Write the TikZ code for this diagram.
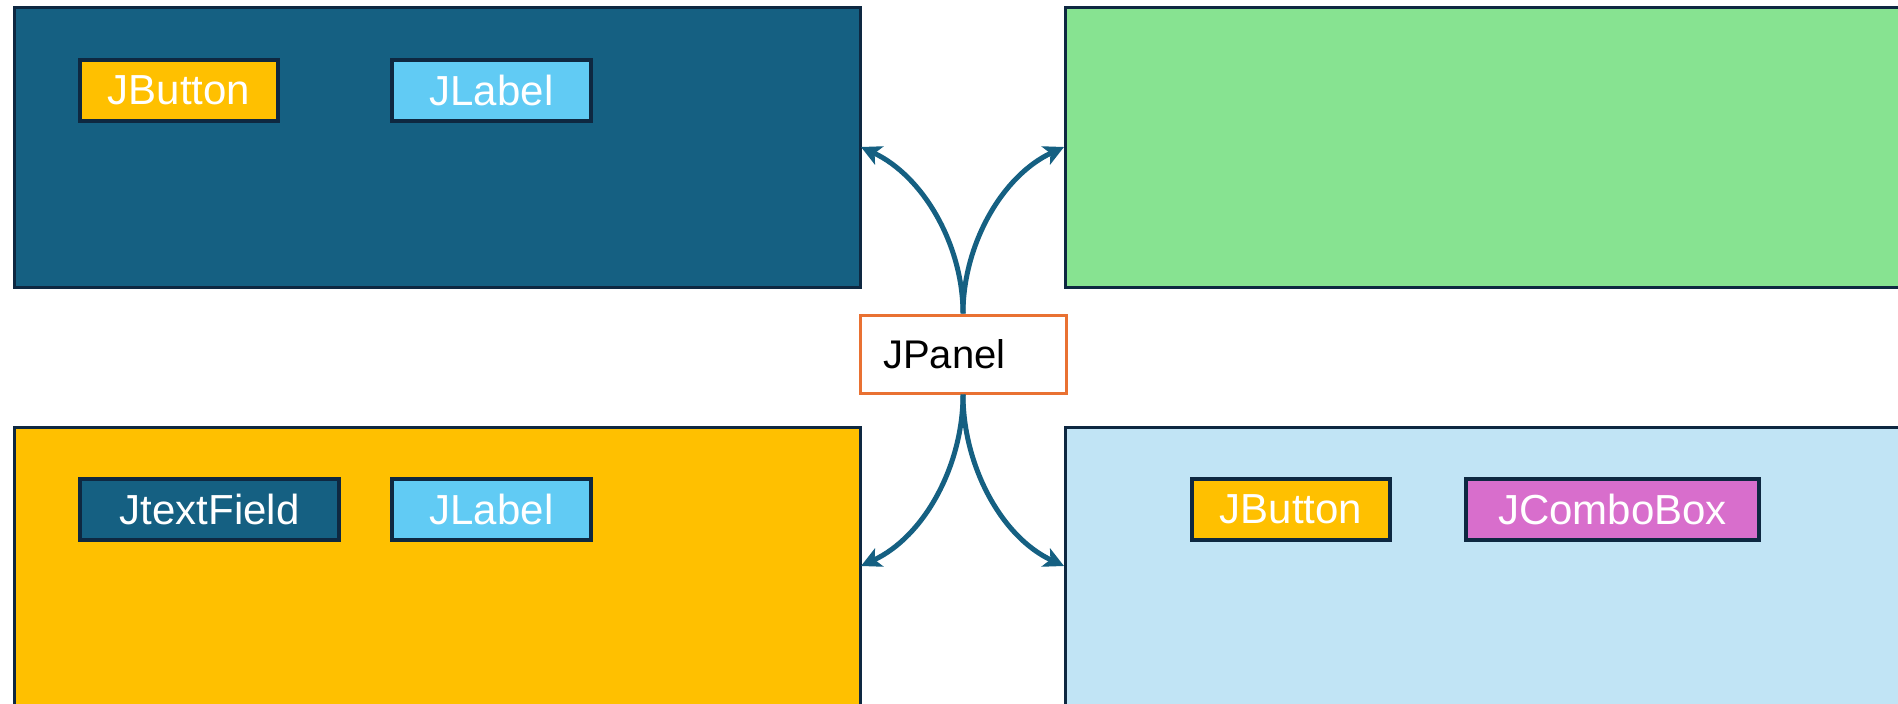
\documentclass[tikz,border=0pt]{standalone}
\usepackage{fontspec}
\setmainfont{Liberation Sans}
\usetikzlibrary{arrows.meta}
\definecolor{teal}{HTML}{156082}
\definecolor{navy}{HTML}{0E2841}
\definecolor{grn}{HTML}{87E391}
\definecolor{gold}{HTML}{FFC000}
\definecolor{pale}{HTML}{C1E4F5}
\definecolor{sky}{HTML}{61CBF4}
\definecolor{pink}{HTML}{D86ECC}
\definecolor{orng}{HTML}{E97132}
\tikzset{
  panelbox/.style={draw=navy, line width=3pt},
  comp/.style={draw=navy, line width=3.5pt, text=white, font=\fontsize{42}{42}\selectfont},
  conn/.style={draw=teal, line width=5pt, -{Stealth[length=20pt,width=20pt,inset=5pt]}},
}
\begin{document}
\begin{tikzpicture}[x=1pt,y=-1pt]
\useasboundingbox (0,0) rectangle (1898,704);
\clip (0,0) rectangle (1898,704);
\fill[white] (0,0) rectangle (1898,704);
% big panels
\draw[panelbox, fill=teal] (14,7) rectangle (860,287);
\draw[panelbox, fill=grn] (1065,7) rectangle (1920,287);
\draw[panelbox, fill=gold] (14,427) rectangle (860,720);
\draw[panelbox, fill=pale] (1065,427) rectangle (1920,720);
\coordinate (tl) at (861,147);
\coordinate (tr) at (1064,147);
\coordinate (bl) at (861,566);
\coordinate (br) at (1064,566);
% components
\draw[comp, fill=gold] (80,60) rectangle (278,121) node[midway] (b1) {JButton};
\draw[comp, fill=sky] (392,60) rectangle (591,121) node[midway] (l1) {JLabel};
\draw[comp, fill=teal] (80,479) rectangle (339,540) node[midway] (t1) {JtextField};
\draw[comp, fill=sky] (392,479) rectangle (591,540) node[midway] (l2) {JLabel};
\draw[comp, fill=gold] (1192,479) rectangle (1390,540) node[midway] (b2) {JButton};
\draw[comp, fill=pink] (1466,479) rectangle (1759,540) node[midway] (c1) {JComboBox};
% JPanel
\node[draw=orng, line width=3pt, fill=white, minimum width=206pt, minimum height=78pt, inner sep=0pt] (jp) at (963,354) {};
\node[anchor=west, font=\fontsize{40}{40}\selectfont, inner sep=0pt] (jpt) at (883,354) {JPanel};
% connectors
\draw[conn] (jp.north) to[out=90,in=-25,looseness=0.9] (tl);
\draw[conn] (jp.north) to[out=90,in=205,looseness=0.9] (tr);
\draw[conn] (jp.south) to[out=-90,in=25,looseness=0.9] (bl);
\draw[conn] (jp.south) to[out=-90,in=155,looseness=0.9] (br);
\end{tikzpicture}
\end{document}
